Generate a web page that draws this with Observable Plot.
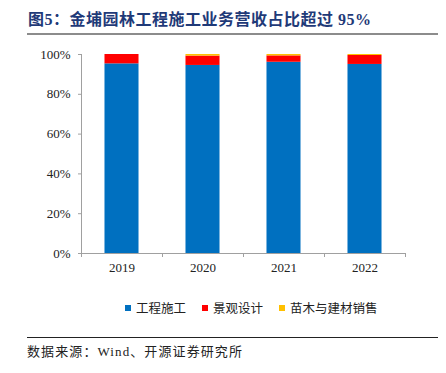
<!DOCTYPE html>
<html><head><meta charset="utf-8">
<script src="https://cdn.jsdelivr.net/npm/d3@7"></script>
<script src="https://cdn.jsdelivr.net/npm/@observablehq/plot@0.6"></script>
<style>
body{margin:0;background:#fff;width:446px;height:373px;position:relative;overflow:hidden;font-family:"Liberation Serif","Noto Sans CJK SC",serif;}
#title{position:absolute;left:28px;top:9px;font-weight:bold;font-size:16px;letter-spacing:0.5px;line-height:22px;color:#1F3A78;white-space:nowrap;font-family:"Liberation Serif","Noto Sans CJK SC",serif;}
#tline{position:absolute;left:27px;top:33px;width:411px;height:2px;background:#8c8c8c;}
#chart{position:absolute;left:0;top:40px;}
#legend{position:absolute;top:299px;left:125px;display:flex;gap:16px;font-size:12.5px;line-height:18px;color:#222;font-family:"Noto Sans CJK SC",sans-serif;white-space:nowrap;}
#legend .item{display:flex;align-items:center;}
#legend .sw{width:6px;height:6px;margin-right:5px;}
#fline{position:absolute;left:27px;top:337px;width:411px;height:1px;background:#222;}
#foot{position:absolute;left:27px;top:343px;font-size:13px;letter-spacing:1.1px;line-height:18px;color:#222;white-space:nowrap;font-family:"Liberation Serif","Noto Sans CJK SC",serif;}
</style></head>
<body>
<div id="title">图5：金埔园林工程施工业务营收占比超过 95%</div>
<div id="tline"></div>
<div id="chart"></div>
<div id="legend"></div>
<div id="fline"></div>
<div id="foot">数据来源：Wind、开源证券研究所</div>
<script>
const years = [2019, 2020, 2021, 2022];
const seriesNames = ["工程施工", "景观设计", "苗木与建材销售"];
const seriesColors = ["#0070C0", "#FF0000", "#FFC000"];
const construction = [95.3, 94.5, 96.1, 95.0];
const design = [4.7, 4.7, 3.2, 4.5];
const seedling = [0.0, 0.8, 0.7, 0.5];
const yTicks = [0, 20, 40, 60, 80, 100];

const seriesValues = [construction, design, seedling];
const rows = [];
years.forEach((yr, i) => {
  let acc = 0;
  seriesNames.forEach((s, j) => {
    const v = seriesValues[j][i];
    rows.push({year: yr, series: s, y1: acc, y2: acc + v});
    acc += v;
  });
});
const bounds = [years[0] - 0.5, ...years.map(y => y + 0.5)];
const half = 0.21;

const chart = Plot.plot({
  width: 446, height: 240,
  marginLeft: 81, marginRight: 41, marginTop: 14, marginBottom: 27,
  style: {fontSize: "13px", fontFamily: "Liberation Serif, serif", color: "#222", background: "transparent"},
  x: {type: "linear", domain: [bounds[0], bounds[bounds.length - 1]]},
  y: {domain: [0, 100]},
  color: {domain: seriesNames, range: seriesColors},
  marks: [
    Plot.rect(rows, {x1: d => d.year - half, x2: d => d.year + half, y1: "y1", y2: "y2", fill: "series"}),
    Plot.axisY({ticks: yTicks, tickFormat: d => d + "%", tickSize: 3, tickPadding: 8, stroke: "#a0a0a0", label: null, fontSize: 13}),
    Plot.axisX({ticks: years, tickFormat: d => String(d), tickSize: 0, tickPadding: 9, label: null, fontSize: 13}),
    Plot.axisX({ticks: bounds, tickFormat: () => "", tickSize: 4, stroke: "#a0a0a0", label: null}),
    Plot.ruleY([0], {stroke: "#a0a0a0"}),
    Plot.ruleX([bounds[0]], {stroke: "#a0a0a0"})
  ]
});
document.getElementById("chart").appendChild(chart);

const legend = document.getElementById("legend");
seriesNames.forEach((s, j) => {
  const it = document.createElement("div");
  it.className = "item";
  const sw = document.createElement("span");
  sw.className = "sw";
  sw.style.background = seriesColors[j];
  const t = document.createElement("span");
  t.textContent = s;
  it.appendChild(sw); it.appendChild(t);
  legend.appendChild(it);
});
</script>
</body></html>
